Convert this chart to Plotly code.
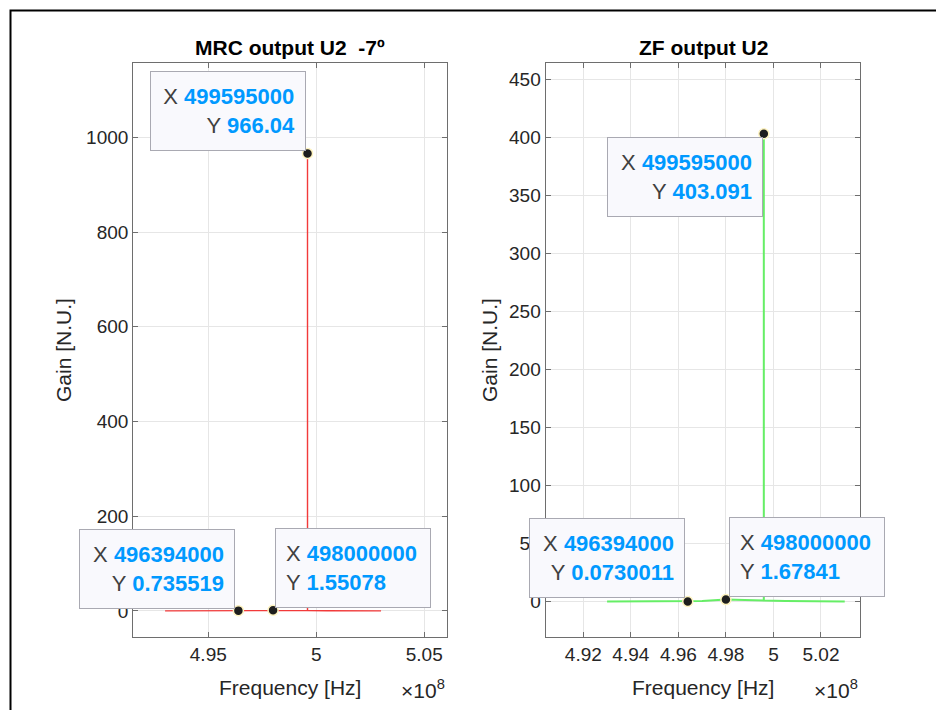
import plotly.graph_objects as go

# Spectrum samples (Hz) and gains for the two receivers
freq = [493000000, 494500000, 495500000, 496394000, 497000000, 498000000,
        499000000, 499594000, 499595000, 499596000, 500500000, 502000000, 503000000]
mrc_gain = [0.31, 0.42, 0.55, 0.735519, 0.82, 1.55078, 1.1, 0.95, 966.04, 0.9, 0.62, 0.41, 0.3]
zf_gain = [0.04, 0.05, 0.06, 0.0730011, 0.45, 1.67841, 1.0, 0.9, 403.091, 0.85, 0.5, 0.2, 0.1]

# Data-tip points (frequency, gain) and the values as printed in the tips
mrc_tips_x = [499595000, 496394000, 498000000]
mrc_tips_y = [966.04, 0.735519, 1.55078]
mrc_tips_label = ["966.04", "0.735519", "1.55078"]
zf_tips_x = [499595000, 496394000, 498000000]
zf_tips_y = [403.091, 0.0730011, 1.67841]
zf_tips_label = ["403.091", "0.0730011", "1.67841"]

mrc_xticks = [4.95e8, 5.0e8, 5.05e8]
mrc_xtext = ["4.95", "5", "5.05"]
zf_xticks = [4.92e8, 4.94e8, 4.96e8, 4.98e8, 5.0e8, 5.02e8]
zf_xtext = ["4.92", "4.94", "4.96", "4.98", "5", "5.02"]
mrc_yticks = [0, 200, 400, 600, 800, 1000]
zf_yticks = [0, 50, 100, 150, 200, 250, 300, 350, 400, 450]

W, H = 936, 710
FONT = "Liberation Sans, Arial, Helvetica, sans-serif"
AX = "#6e6e6e"
GRID = "#e6e6e6"
TXT = "#262626"
BLUE = "#0099ff"


def px(x):
    return x / W


def py(y):
    return 1 - y / H


fig = go.Figure()

fig.add_trace(go.Scatter(x=freq, y=mrc_gain, mode="lines",
                         line=dict(color="#f23a3a", width=1.4),
                         xaxis="x", yaxis="y", hoverinfo="skip"))
fig.add_trace(go.Scatter(x=freq, y=zf_gain, mode="lines",
                         line=dict(color="#66ee66", width=2),
                         xaxis="x2", yaxis="y2", hoverinfo="skip"))

tip_marker = dict(color="#1e1e1e", size=10, line=dict(color="#fff4c0", width=1.5))
fig.add_trace(go.Scatter(x=mrc_tips_x, y=mrc_tips_y, mode="markers", marker=tip_marker,
                         xaxis="x", yaxis="y", cliponaxis=False, hoverinfo="skip"))
fig.add_trace(go.Scatter(x=zf_tips_x, y=zf_tips_y, mode="markers", marker=tip_marker,
                         xaxis="x2", yaxis="y2", cliponaxis=False, hoverinfo="skip"))

axis_common = dict(
    showline=True, linecolor=AX, linewidth=1.3, mirror="ticks",
    ticks="inside", ticklen=5, tickcolor=AX, tickwidth=1,
    showgrid=True, gridcolor=GRID, gridwidth=1, zeroline=False,
    tickfont=dict(family=FONT, size=19, color=TXT),
)

fig.update_layout(
    width=W, height=H,
    margin=dict(l=0, r=0, t=0, b=0),
    paper_bgcolor="white", plot_bgcolor="white",
    showlegend=False,
    xaxis=dict(domain=[px(133.3), px(446.7)], range=[4.91528e8, 5.0604e8],
               tickvals=mrc_xticks, ticktext=mrc_xtext, anchor="y", **axis_common),
    yaxis=dict(domain=[py(636.7), py(62.7)], range=[-54.3, 1157.5],
               tickvals=mrc_yticks, anchor="x", **axis_common),
    xaxis2=dict(domain=[px(545.7), px(860)], range=[4.90417e8, 5.03642e8],
                tickvals=zf_xticks, ticktext=zf_xtext, anchor="y2", **axis_common),
    yaxis2=dict(domain=[py(636.7), py(62.7)], range=[-30.3, 464.3],
                tickvals=zf_yticks, anchor="x2", **axis_common),
)

# Outer figure frame
fig.add_shape(type="rect", xref="paper", yref="paper",
              x0=px(10.5), x1=1.2, y0=-0.2, y1=py(10.5),
              line=dict(color="black", width=2), fillcolor="rgba(0,0,0,0)")

ann = []
# Titles
ann.append(dict(text="<b>MRC output U2 \u00a0-7º</b>", x=px(290), y=py(47),
                xref="paper", yref="paper", showarrow=False, xanchor="center", yanchor="middle",
                font=dict(family=FONT, size=21, color="black")))
ann.append(dict(text="<b>ZF output U2</b>", x=px(703), y=py(47),
                xref="paper", yref="paper", showarrow=False, xanchor="center", yanchor="middle",
                font=dict(family=FONT, size=21, color="black")))
# Axis titles
for cx in (290, 703):
    ann.append(dict(text="Frequency [Hz]", x=px(cx), y=py(687), xref="paper", yref="paper",
                    showarrow=False, xanchor="center", yanchor="middle",
                    font=dict(family=FONT, size=21, color=TXT)))
for cx in (63, 489):
    ann.append(dict(text="Gain [N.U.]", x=px(cx), y=py(350), xref="paper", yref="paper",
                    showarrow=False, xanchor="center", yanchor="middle", textangle=-90,
                    font=dict(family=FONT, size=21, color=TXT)))
# Exponent labels
for rx in (399, 812):
    ann.append(dict(text="×10<sup>8</sup>", x=px(rx), y=py(689), xref="paper", yref="paper",
                    showarrow=False, xanchor="left", yanchor="middle",
                    font=dict(family=FONT, size=21, color=TXT)))


def tip(xv, yv, label, xr, yr, side, vert, dx, dy):
    text = (f"<span style='color:#404040'>X </span><b><span style='color:{BLUE}'>{xv}</span></b><br>"
            f"<span style='color:#404040'>Y </span><b><span style='color:{BLUE}'>{label}</span></b>")
    return dict(text=text, x=xv, y=yv, xref=xr, yref=yr, showarrow=False,
                xanchor="right" if side == "left" else "left",
                yanchor=vert, xshift=dx, yshift=dy,
                align="right" if side == "left" else "left",
                width=134, height=58, borderpad=10, borderwidth=1,
                bgcolor="#f9f9fd", bordercolor="#a9a9b2",
                font=dict(family=FONT, size=22, color="#404040"))


# MRC data tips
layout_mrc = [("left", "bottom", -2, 2), ("left", "bottom", -3, 2), ("right", "bottom", 2, 2)]
for xv, yv, lb, (side, vert, dx, dy) in zip(mrc_tips_x, mrc_tips_y, mrc_tips_label, layout_mrc):
    ann.append(tip(xv, yv, lb, "x", "y", side, vert, dx, dy))

# ZF data tips
layout_zf = [("left", "top", -1, -3), ("left", "bottom", -3, 3), ("right", "bottom", 3, 3)]
for xv, yv, lb, (side, vert, dx, dy) in zip(zf_tips_x, zf_tips_y, zf_tips_label, layout_zf):
    ann.append(tip(xv, yv, lb, "x2", "y2", side, vert, dx, dy))

fig.update_layout(annotations=ann)

fig.write_html("out.html")
